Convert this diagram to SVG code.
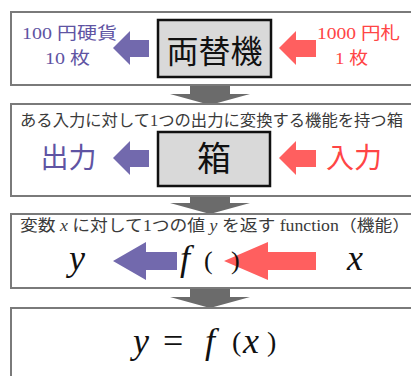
<svg xmlns="http://www.w3.org/2000/svg" width="411" height="376" viewBox="0 0 411 376">
<style>
.frame{fill:#fff;stroke:#7a7a7a;stroke-width:2}
.inner{fill:#d9d9d9;stroke:#111;stroke-width:2.5}
.jp{font-family:"Liberation Serif","Noto Sans CJK JP",serif}
.blue{fill:#5f54a3}
.red{fill:#ff4545}
.barrow{fill:#7269ad}
.rarrow{fill:#ff5f5f}
.down{fill:#6b6b6b}
.hdr{fill:#3a3a3a;font-size:16px}
.math{font-family:"Liberation Serif","DejaVu Serif",serif;font-style:italic;fill:#111}
.par{font-family:"Liberation Serif","DejaVu Serif",serif;fill:#111}
</style>
<rect width="411" height="376" fill="#fff"/>
<g id="connectors">
  <polygon class="down" points="190,85 230,85 230,94 250,94 210,105 170,94 190,94"/>
  <polygon class="down" points="190,196 230,196 230,203 250,203 210,214 170,203 190,203"/>
  <polygon class="down" points="190,287 230,287 230,297 250,297 210,308 170,297 190,297"/>
</g>
<g id="box1">
  <rect class="frame" x="11" y="12" width="410" height="73"/>
  <rect class="inner" x="158" y="20" width="113" height="57"/>
  <text class="jp" x="214.5" y="63" font-size="32" text-anchor="middle" fill="#111">両替機</text>
  <polygon class="barrow" points="113,48 130,31 130,40 149,40 149,57 130,57 130,65"/>
  <polygon class="rarrow" points="279,48 296,31 296,40 316,40 316,57 296,57 296,65"/>
  <text class="jp blue" x="22" y="39" font-size="17" textLength="95" lengthAdjust="spacingAndGlyphs">100 円硬貨</text>
  <text class="jp blue" x="45" y="64" font-size="17" textLength="45" lengthAdjust="spacingAndGlyphs">10 枚</text>
  <text class="jp red" x="317" y="39" font-size="17" textLength="83" lengthAdjust="spacingAndGlyphs">1000 円札</text>
  <text class="jp red" x="335" y="64" font-size="17" textLength="33" lengthAdjust="spacingAndGlyphs">1 枚</text>
</g>
<g id="box2">
  <rect class="frame" x="11" y="104" width="410" height="92"/>
  <text class="jp hdr" x="20" y="126" textLength="383" lengthAdjust="spacingAndGlyphs">ある入力に対して1つの出力に変換する機能を持つ箱</text>
  <rect class="inner" x="158" y="132" width="112" height="54"/>
  <text class="jp" x="214" y="171" font-size="34" text-anchor="middle" fill="#111">箱</text>
  <polygon class="barrow" points="113,158 130,141 130,150 149,150 149,167 130,167 130,175"/>
  <polygon class="rarrow" points="279,158 296,141 296,150 316,150 316,167 296,167 296,175"/>
  <text class="jp blue" x="68.5" y="168" font-size="28" text-anchor="middle">出力</text>
  <text class="jp red" x="354" y="168" font-size="28" text-anchor="middle">入力</text>
</g>
<g id="box3">
  <rect class="frame" x="11" y="214" width="410" height="74"/>
  <text class="jp hdr" x="20" y="231" textLength="390" lengthAdjust="spacingAndGlyphs">変数 <tspan font-style="italic">x</tspan> に対して1つの値 <tspan font-style="italic">y</tspan> を返す function（機能）</text>
  <polygon class="barrow" points="113,261 146,242 146,252 177,252 177,270 146,270 146,280"/>
  <polygon class="rarrow" points="224,261 268,242 268,252 316,252 316,270 268,270 268,280"/>
  <text class="math" x="77" y="270" font-size="36" text-anchor="middle">y</text>
  <text class="math" x="180" y="270" font-size="36">f</text>
  <text class="par" x="204" y="269" font-size="26">(</text>
  <text class="par" x="231" y="269" font-size="26">)</text>
  <text class="math" x="355" y="270" font-size="36" text-anchor="middle">x</text>
</g>
<g id="box4">
  <rect class="frame" x="11" y="308" width="410" height="80"/>
  <text class="math" x="133" y="353" font-size="36">y</text>
  <text class="par" x="163" y="353" font-size="36">=</text>
  <text class="math" x="205" y="353" font-size="36">f</text>
  <text class="par" x="232" y="351" font-size="28">(</text>
  <text class="math" x="243" y="353" font-size="36">x</text>
  <text class="par" x="267" y="351" font-size="28">)</text>
</g>
</svg>
